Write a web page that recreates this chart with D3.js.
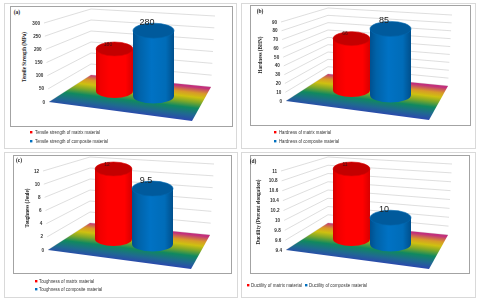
<!DOCTYPE html>
<html><head><meta charset="utf-8">
<style>html,body{margin:0;padding:0;background:#fff}svg{display:block;filter:blur(.5px)}</style>
<script src="https://cdn.jsdelivr.net/npm/d3@7"></script></head>
<body><svg width="480" height="302"></svg>
<script>
const panelLabels = ["(a)","(b)","(c)","(d)"];
const yTitles = ["Tensile Strength (MPa)","Hardness (BHN)","Toughness (Joule)","Ductility (Percent elongation)"];
const matrixValues = [180,66,12,11];
const compositeValues = [280,85,9.5,10];
const matrixLabels = ["180","66","12","11"];
const compositeLabels = ["280","85","9.5","10"];
const tensileTicks = [0,50,100,150,200,250,300];
const hardnessTicks = [0,10,20,30,40,50,60,70,80,90];
const toughnessTicks = [0,2,4,6,8,10,12];
const ductilityTicks = [9.4,9.6,9.8,10,10.2,10.4,10.6,10.8,11];
const allTicks = [tensileTicks,hardnessTicks,toughnessTicks,ductilityTicks];
const matrixLegend = ["Tensile strength of matrix material","Hardness of matrix material","Toughness of matrix material","Ductility of matrix material"];
const compositeLegend = ["Tensile strength of composite material","Hardness of composite material","Toughness of composite material","Ductility of composite material"];

// layout only
const outer = [[4,3,236,148],[241,3,475,148],[4,152,237,297],[241,152,475,297]];
const frame = [[10,6,232,126],[250,5,470,125],[13,155,231,273],[250,155,469,273]];
const offs = [[0,0],[237,-1],[-1,148],[237,148]];
const titleAt = [[24,57,50],[260,55,37],[27,208,39],[258,212,65]];
const panelAt = [[17,12],[260,11],[19,160],[253,161]];
const legendAt = [
  [[31,132,35,65],[31,141,35,73]],
  [[275,132,279,52],[275,141,279,60]],
  [[36,281,39,55],[36,289,39,63]],
  [[248,285,251,51],[306,285,309,58]]];

const svg = d3.select("svg");
const defs = svg.append("defs");
function hgrad(id,stops){
  const g=defs.append("linearGradient").attr("id",id);
  stops.forEach(s=>g.append("stop").attr("offset",s[0]).attr("stop-color",s[1]));
}
hgrad("redG",[[0,"#d40000"],[.12,"#f00000"],[.35,"#ff0000"],[.8,"#ff0000"],[1,"#d80000"]]);
hgrad("bluG",[[0,"#00508f"],[.15,"#0062a8"],[.45,"#0072c4"],[.8,"#006cb8"],[1,"#004f8c"]]);
const fl=defs.append("linearGradient").attr("id","floorG").attr("gradientUnits","userSpaceOnUse")
  .attr("x1",120).attr("y1",112).attr("x2",124).attr("y2",78.5);
[[0,"#2b49ad"],[.18,"#1f6a90"],[.38,"#10895f"],[.55,"#7fa828"],[.7,"#cfc010"],[.83,"#d89a28"],[1,"#c2307c"]]
  .forEach(s=>fl.append("stop").attr("offset",s[0]).attr("stop-color",s[1]));

const lerp=(a,b,t)=>[a[0]+(b[0]-a[0])*t,a[1]+(b[1]-a[1])*t];
const FB=[49,102],FT=[44,23],BB=[91,75],BT=[91,9],RB=[211,87],RT=[215,16],FR=[192,121];
const BAR_H=70;
const bars=[{cx:114.5,rx:18.5,ry:7,by:91,fill:"url(#redG)",top:"#c40000",rim:"#e00000"},
            {cx:153.5,rx:20.5,ry:7.5,by:96,fill:"url(#bluG)",top:"#005a9c",rim:"#0068b0"}];

panelLabels.forEach((pl,i)=>{
  const [dx,dy]=offs[i];
  const o=outer[i],f=frame[i];
  svg.append("rect").attr("x",o[0]+.5).attr("y",o[1]+.5).attr("width",o[2]-o[0]).attr("height",o[3]-o[1])
    .attr("fill","#fff").attr("stroke","#d9d9d9");
  svg.append("rect").attr("x",f[0]+.5).attr("y",f[1]+.5).attr("width",f[2]-f[0]).attr("height",f[3]-f[1])
    .attr("fill","#fff").attr("stroke","#a3a3a3");
  svg.append("text").attr("x",panelAt[i][0]).attr("y",panelAt[i][1]).attr("dy","0.35em").attr("text-anchor","middle")
    .attr("font-family","Liberation Serif").attr("font-weight","bold").attr("font-size",5.5).attr("fill","#222").text(pl);
  svg.append("text").attr("transform",`translate(${titleAt[i][0]},${titleAt[i][1]}) rotate(-90)`).attr("dy","0.35em")
    .attr("text-anchor","middle").attr("font-family","Liberation Serif").attr("font-weight","bold")
    .attr("textLength",titleAt[i][2]).attr("lengthAdjust","spacingAndGlyphs")
    .attr("font-size",5.6).attr("fill","#222").text(yTitles[i]);

  const g=svg.append("g").attr("transform",`translate(${dx},${dy})`);
  const ticks=allTicks[i];
  const y=d3.scaleLinear().domain(d3.extent(ticks)).range([0,1]);
  ticks.forEach(v=>{
    const t=y(v);
    const p0=lerp(FB,FT,t),p1=lerp(BB,BT,t),p2=lerp(RB,RT,t);
    g.append("path").attr("d",d3.line()([p0,p1,p2])).attr("fill","none").attr("stroke","#d6d6d6").attr("stroke-width",.8);
    g.append("text").attr("x",p0[0]-4).attr("y",p0[1]).attr("dy","0.35em").attr("text-anchor","end")
      .attr("font-family","Liberation Sans").attr("font-weight","bold").attr("font-size",4.6).attr("fill","#333").text(v);
  });
  g.append("path").attr("d",d3.line()([FB,BB,RB,FR])+"Z").attr("fill","url(#floorG)");

  [matrixValues[i],compositeValues[i]].forEach((v,k)=>{
    const b=bars[k],h=y(v)*BAR_H,ty=b.by-h;
    g.append("path").attr("d",`M${b.cx-b.rx},${ty}L${b.cx-b.rx},${b.by}A${b.rx},${b.ry} 0 0 0 ${b.cx+b.rx},${b.by}L${b.cx+b.rx},${ty}Z`)
      .attr("fill",b.fill);
    g.append("ellipse").attr("cx",b.cx).attr("cy",ty).attr("rx",b.rx).attr("ry",b.ry).attr("fill",b.top).attr("stroke",b.rim).attr("stroke-width",.6);
    if(k==0) g.append("text").attr("x",b.cx-6.5).attr("y",ty-5).attr("dy","0.35em").attr("text-anchor","middle")
      .attr("font-family","Liberation Sans").attr("font-size",5).attr("fill","#401010").text(matrixLabels[i]);
    else g.append("text").attr("x",b.cx-6.5).attr("y",ty-9).attr("dy","0.35em").attr("text-anchor","middle")
      .attr("font-family","Liberation Sans").attr("font-size",9).attr("fill","#222").text(compositeLabels[i]);
  });

  [[matrixLegend[i],"#ff0000"],[compositeLegend[i],"#0070c0"]].forEach((e,k)=>{
    const L=legendAt[i][k];
    svg.append("rect").attr("x",L[0]-1).attr("y",L[1]-1).attr("width",2.4).attr("height",2.4).attr("fill",e[1]);
    svg.append("text").attr("x",L[2]).attr("y",L[1]).attr("dy","0.35em").attr("textLength",L[3]).attr("lengthAdjust","spacingAndGlyphs")
      .attr("font-family","Liberation Sans").attr("font-size",4.7).attr("fill","#333").text(e[0]);
  });
});
</script></body></html>
